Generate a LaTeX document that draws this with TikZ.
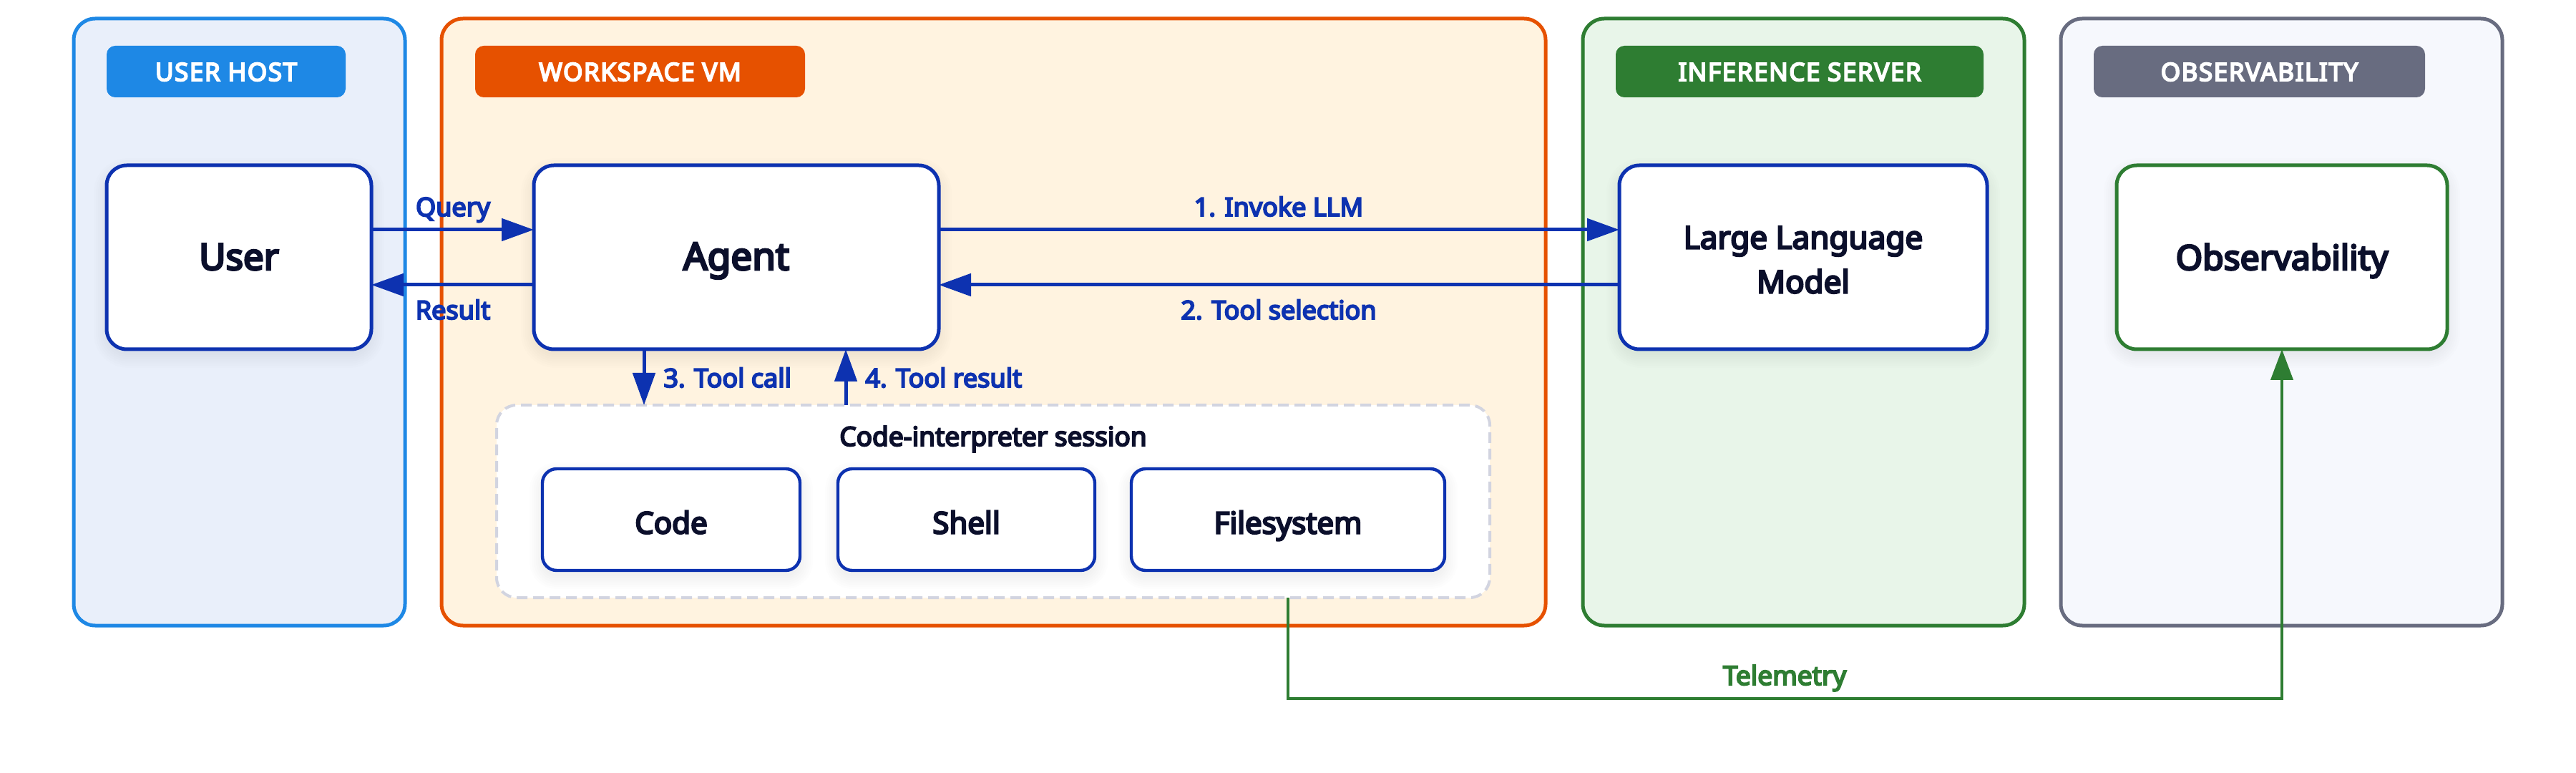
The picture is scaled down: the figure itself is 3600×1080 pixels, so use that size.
\documentclass[tikz,border=0pt]{standalone}
\usepackage{fontspec}
\setmainfont{Noto Sans}[FakeBold=5.5]
\usetikzlibrary{arrows.meta,calc}
\definecolor{cblue}{HTML}{0D32B0}
\definecolor{cink}{HTML}{0B0F2B}
\definecolor{cdash}{HTML}{D2D4E0}
\definecolor{hostc}{HTML}{1E88E5}\definecolor{hostf}{HTML}{E9EFFA}
\definecolor{vmc}{HTML}{E65100}\definecolor{vmf}{HTML}{FFF3E0}
\definecolor{infc}{HTML}{2E7D32}\definecolor{inff}{HTML}{E8F5E9}
\definecolor{obsc}{HTML}{686C80}\definecolor{obsf}{HTML}{F6F8FD}
\newcommand{\fsz}[1]{\fontsize{#1pt}{31pt}\selectfont}
% soft shadow: x1,y1,x2,y2,radius
\newcommand{\softshadow}[5]{%
  \foreach \g in {0,3,...,18}{%
    \fill[black,opacity=0.006,rounded corners=#5*0.5pt+\g*0.5pt]
      (#1-\g,#2+8-\g) rectangle (#3+\g,#4+8+\g);}}
\tikzset{
  x=0.5pt,y=-0.5pt,
  panel/.style={draw=#1,line width=2.5pt,rounded corners=15pt,outer sep=0pt},
  pill/.style={fill=#1,text=white,rounded corners=6pt,minimum height=36pt,inner sep=0pt,outer sep=0pt,
    font=\fsz{17.5}\addfontfeature{LetterSpace=4.5},text height=13pt,text depth=0pt},
  bigbox/.style={draw=#1,fill=white,line width=2.5pt,rounded corners=14pt,minimum height=128.5pt,inner sep=0pt,outer sep=0pt,
    text=cink,font=\fsz{25},align=center},
  toolbox/.style={draw=cblue,fill=white,line width=2.2pt,rounded corners=10pt,minimum height=71pt,inner sep=0pt,outer sep=0pt,
    text=cink,font=\fsz{21},text height=19.5pt,text depth=0pt},
  flow/.style={draw=cblue,line width=2.5pt,-{Triangle[length=22.5pt,width=15.5pt]}},
  telem/.style={draw=infc,line width=2.1pt,-{Triangle[length=21.5pt,width=15.5pt]}},
  edgelab/.style={text=cblue,font=\fsz{18},inner sep=0pt,anchor=base},
}
\begin{document}
\begin{tikzpicture}
\useasboundingbox (0,0) rectangle (3600,1080);
\fill[white] (0,0) rectangle (3600,1080);
% panels
\node[panel=hostc,fill=hostf,minimum width=231.5pt,minimum height=424pt] (phost) at (334.5,450) {};
\node[panel=vmc,fill=vmf,minimum width=771.5pt,minimum height=424pt] (pvm) at (1388.5,450) {};
\node[panel=infc,fill=inff,minimum width=308.5pt,minimum height=424pt] (pinf) at (2520.5,450) {};
\node[panel=obsc,fill=obsf,minimum width=308.5pt,minimum height=424pt] (pobs) at (3188.5,450) {};
% pills
\node[pill=hostc,minimum width=167pt] (lhost) at (316,100) {USER HOST};
\node[pill=vmc,minimum width=230.5pt] (lvm) at (894.5,100) {WORKSPACE VM};
\node[pill=infc,minimum width=257pt] (linf) at (2515,100) {INFERENCE SERVER};
\node[pill=obsc,minimum width=231.5pt] (lobs) at (3157.5,100) {OBSERVABILITY};
% shadows
\softshadow{149}{231}{519}{488}{30}
\softshadow{746}{231}{1312}{488}{30}
\softshadow{2263}{231}{2777}{488}{30}
\softshadow{2958}{231}{3420}{488}{30}
% session
\node[draw=cdash,fill=white,line width=2pt,dash pattern=on 7.5pt off 4pt,rounded corners=14pt,minimum width=694pt,minimum height=134.5pt,outer sep=0pt,inner sep=0pt] (session) at (1388,700.5) {};
\softshadow{758}{656}{1118}{797}{20}
\softshadow{1171}{656}{1530}{797}{20}
\softshadow{1581}{656}{2019}{797}{20}
% boxes
\node[bigbox=cblue,minimum width=185pt,font=\fsz{25.5},text height=19pt,text depth=1.5pt] (user) at (334,359.5) {User};
\node[bigbox=cblue,minimum width=283pt,font=\fsz{26.5},text height=19pt,text depth=1.5pt] (agent) at (1029,359.5) {Agent};
\node[bigbox=cblue,minimum width=257pt] (llm) at (2520,359.5) {};
\node[text=cink,font=\fsz{22},align=center,inner sep=0pt] (llmtext) at (2520,363) {Large Language\\Model};
\node[bigbox=infc,minimum width=231pt,font=\fsz{24},text height=19pt,text depth=1.5pt] (obs) at (3189,359.5) {Observability};
\node[toolbox,minimum width=180pt] (code) at (938,726) {Code};
\node[toolbox,minimum width=179.5pt] (shell) at (1350.5,726) {Shell};
\node[toolbox,minimum width=219pt] (fs) at (1800,726) {Filesystem};
% routing rows
\coordinate (qrow) at (0,321);
\coordinate (rrow) at (0,398);
\coordinate (callcol) at (900,0);
\coordinate (rescol) at (1182,0);
\coordinate (trow) at (0,976);
% connectors
\draw[flow] (user.east |- qrow) -- (agent.west |- qrow);
\draw[flow] (agent.west |- rrow) -- (user.east |- rrow);
\draw[flow] (agent.east |- qrow) -- (llm.west |- qrow);
\draw[flow] (llm.west |- rrow) -- (agent.east |- rrow);
\draw[flow] (callcol |- agent.south) -- (callcol |- session.north);
\draw[flow] (rescol |- session.north) -- (rescol |- agent.south);
\draw[telem] (fs.center |- session.south) -- (fs.center |- trow) -- (obs.south |- trow) -- (obs.south);
% labels
\node[edgelab] (tquery) at (633,302) {Query};
\node[edgelab] (tresult) at (633,446) {Result};
\node[edgelab] (tinvoke) at (1787,302) {1. Invoke LLM};
\node[edgelab] (tsel) at (1787,446) {2. Tool selection};
\node[edgelab,anchor=base west] (tcall) at (927,541) {3. Tool call};
\node[edgelab,anchor=base west] (tres) at (1209,541) {4. Tool result};
\node[edgelab,text=infc,font=\fsz{18.5}] (ttel) at (2494,957) {Telemetry};
\node[anchor=base,text=cink,font=\fsz{18.5},inner sep=0pt] (tsess) at (1388,623) {Code-interpreter session};
\end{tikzpicture}
\end{document}
